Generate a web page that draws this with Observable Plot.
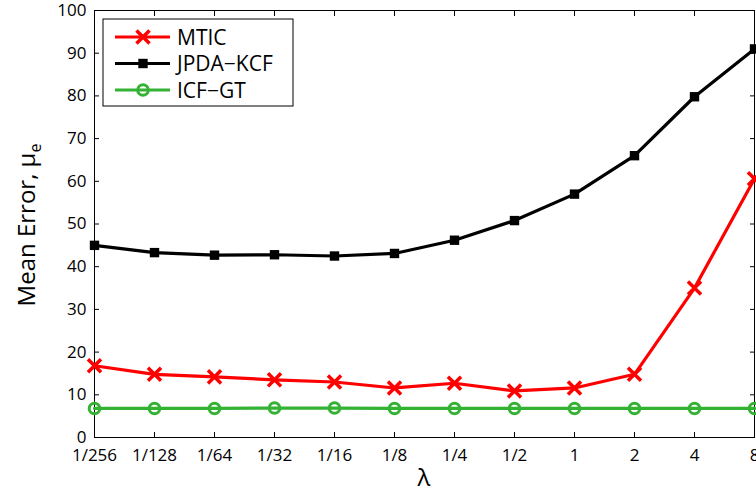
<!DOCTYPE html>
<html>
<head>
<meta charset="utf-8">
<script src="https://cdn.jsdelivr.net/npm/d3@7"></script>
<script src="https://cdn.jsdelivr.net/npm/@observablehq/plot@0.6"></script>
<style>
  body { margin: 0; background: #fff; }
  #chart svg { display: block; }
</style>
</head>
<body>
<div id="chart"></div>
<script>
// λ values on the horizontal axis
const lambdas = ["1/256", "1/128", "1/64", "1/32", "1/16", "1/8", "1/4", "1/2", "1", "2", "4", "8"];

// Mean error for each tracker
const mtic    = [16.8, 14.8, 14.2, 13.5, 13.0, 11.6, 12.7, 10.9, 11.6, 14.8, 35.0, 60.6];
const jpdaKcf = [45.0, 43.3, 42.7, 42.8, 42.5, 43.1, 46.2, 50.8, 57.0, 66.0, 79.8, 91.0];
const icfGt   = [6.8, 6.8, 6.8, 6.9, 6.9, 6.8, 6.8, 6.8, 6.8, 6.8, 6.8, 6.8];

const yTicks = [0, 10, 20, 30, 40, 50, 60, 70, 80, 90, 100];

const seriesNames = ["MTIC", "JPDA\u2212KCF", "ICF\u2212GT"];
const seriesValues = [mtic, jpdaKcf, icfGt];
const seriesColors = ["#ff0000", "#000000", "#33b233"];

const rows = seriesNames.flatMap((name, s) =>
  seriesValues[s].map((v, i) => ({series: name, lambda: lambdas[i], value: v}))
);
const bySeries = name => rows.filter(d => d.series === name);

const font = "'Open Sans', sans-serif";
const markR = [6, 5.3, 5.3];

const chart = Plot.plot({
  width: 756,
  height: 491,
  marginLeft: 94,
  marginRight: 2,
  marginTop: 10,
  marginBottom: 54,
  style: {fontFamily: font, fontSize: "17px", background: "#fff", color: "#000", overflow: "visible"},
  x: {type: "point", domain: lambdas, padding: 0, label: null},
  y: {domain: [0, 100], label: null},
  color: {domain: seriesNames, range: seriesColors},
  marks: [
    Plot.axisY(yTicks, {anchor: "left", tickSize: -5, tickPadding: 13, label: null, stroke: "#000"}),
    Plot.axisY(yTicks, {anchor: "right", tickSize: -5, tickFormat: () => "", label: null, stroke: "#000"}),
    Plot.axisX(lambdas, {anchor: "bottom", tickSize: -5, tickPadding: 16, label: null, stroke: "#000"}),
    Plot.axisX(lambdas, {anchor: "top", tickSize: -5, tickFormat: () => "", label: null, stroke: "#000"}),
    Plot.frame({stroke: "#000", strokeWidth: 1}),
    Plot.line(rows, {x: "lambda", y: "value", z: "series", stroke: "series", strokeWidth: 3.2}),
    Plot.dot(bySeries(seriesNames[0]), {x: "lambda", y: "value", symbol: "times", r: markR[0], stroke: seriesColors[0], strokeWidth: 3.5}),
    Plot.dot(bySeries(seriesNames[1]), {x: "lambda", y: "value", symbol: "square", r: markR[1], fill: seriesColors[1], stroke: "none"}),
    Plot.dot(bySeries(seriesNames[2]), {x: "lambda", y: "value", symbol: "circle", r: markR[2], fill: "none", stroke: seriesColors[2], strokeWidth: 3})
  ]
});

const svg = d3.select(chart);

// Axis titles
svg.append("text")
  .attr("transform", "translate(35,225) rotate(-90)")
  .attr("text-anchor", "middle")
  .attr("font-family", font)
  .attr("font-size", 24)
  .attr("fill", "#000")
  .call(t => {
    t.append("tspan").text("Mean Error, \u03bc");
    t.append("tspan").attr("font-size", 16).attr("dy", 6).text("e");
  });

svg.append("text")
  .attr("x", 424)
  .attr("y", 486)
  .attr("text-anchor", "middle")
  .attr("font-family", font)
  .attr("font-size", 24)
  .attr("fill", "#000")
  .text("\u03bb");

// Legend
const legend = svg.append("g").attr("transform", "translate(103,19)");
legend.append("rect")
  .attr("width", 190).attr("height", 87)
  .attr("fill", "#fff").attr("stroke", "#000").attr("stroke-width", 1);
const symbolGen = [d3.symbolTimes, d3.symbolSquare, d3.symbolCircle];
seriesNames.forEach((name, i) => {
  const g = legend.append("g").attr("transform", `translate(0,${18 + i * 26.5})`);
  g.append("line").attr("x1", 12).attr("x2", 67).attr("stroke", seriesColors[i]).attr("stroke-width", 3.2);
  const p = g.append("path")
    .attr("transform", "translate(40,0)")
    .attr("d", d3.symbol(symbolGen[i], markR[i] * markR[i] * Math.PI)());
  if (i === 0) p.attr("fill", "none").attr("stroke", seriesColors[i]).attr("stroke-width", 3.5);
  if (i === 1) p.attr("fill", seriesColors[i]);
  if (i === 2) p.attr("fill", "none").attr("stroke", seriesColors[i]).attr("stroke-width", 3);
  g.append("text")
    .attr("x", 74).attr("dy", "0.36em")
    .attr("text-anchor", "start")
    .attr("font-family", font).attr("font-size", 21).attr("fill", "#000")
    .text(name);
});

document.getElementById("chart").append(chart);
</script>
</body>
</html>
